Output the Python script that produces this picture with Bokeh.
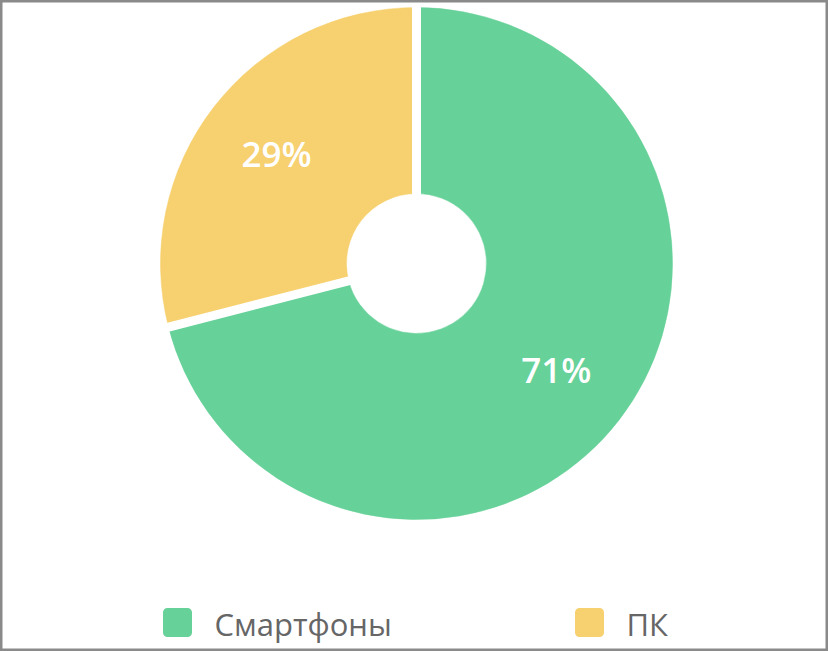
import numpy as np
from bokeh.plotting import figure
from bokeh.models import Range1d, ColumnDataSource
from bokeh.core.properties import value
from bokeh.embed import file_html
from bokeh.resources import INLINE

# ---- data ----
categories = ["Смартфоны", "ПК"]
shares = [71, 29]
labels = ["71%", "29%"]
colors = ["#66D198", "#F7D06F"]

# ---- layout ----
W, H = 828, 651
p = figure(width=W, height=H, x_range=Range1d(0, W), y_range=Range1d(0, H),
           output_backend="svg", toolbar_location=None, min_border=0)
p.xaxis.visible = False
p.yaxis.visible = False
p.grid.visible = False
p.outline_line_color = "#8a8a8a"
p.outline_line_width = 4
p.background_fill_color = "white"
p.border_fill_color = "white"

cx, cy = 416, H - 263
r_out, r_in = 256, 70
gap = 9

frac = np.array(shares, dtype=float) / sum(shares)
cum = np.cumsum(frac)
start = np.pi / 2 - 2 * np.pi * np.concatenate([[0.0], cum[:-1]])
end = np.pi / 2 - 2 * np.pi * cum
mid = (start + end) / 2

src = ColumnDataSource(dict(start=start, end=end, color=colors, cat=categories))
p.annular_wedge(x=cx, y=cy, inner_radius=r_in, outer_radius=r_out,
                inner_radius_units="screen", outer_radius_units="screen",
                start_angle="start", end_angle="end", direction="clock",
                fill_color="color", line_color="color", line_width=0.5, source=src)
# white separators between slices
p.ray(x=cx, y=cy, length=r_out + 3, length_units="screen", angle=start,
      line_color="white", line_width=gap)

r_lab = 177
lsrc = ColumnDataSource(dict(x=cx + r_lab * np.cos(mid), y=cy + r_lab * np.sin(mid) + 2, t=labels))
p.text(x="x", y="y", text="t", source=lsrc, text_color="white",
       text_font=value("Open Sans SemiBold, Open Sans"), text_font_style="normal",
       text_font_size="35px", text_align="center", text_baseline="middle")

# ---- legend ----
leg_x0, leg_dx, leg_y = 177, 412, H - 622
mx = [leg_x0 + i * leg_dx for i in range(len(categories))]
msrc = ColumnDataSource(dict(x=mx, y=[leg_y] * len(mx), color=colors,
                             tx=[m + 37 for m in mx], ty=[leg_y - 1] * len(mx), t=categories))
p.rect(x="x", y="y", width=20, height=20, width_units="screen", height_units="screen",
       fill_color="color", line_color="color", line_width=9, line_join="round", source=msrc)
p.text(x="tx", y="ty", text="t", source=msrc, text_color="#666666",
       text_font=value("Open Sans"), text_font_size="31px",
       text_align="left", text_baseline="middle")

open("out.html", "w").write(file_html(p, INLINE))
